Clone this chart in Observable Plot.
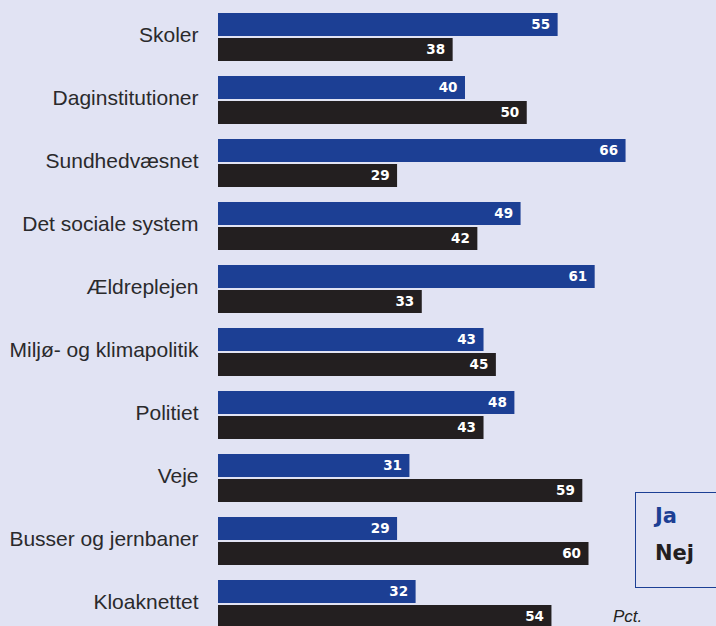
<!DOCTYPE html>
<html>
<head>
<meta charset="utf-8">
<script src="https://cdn.jsdelivr.net/npm/d3@7"></script>
<script src="https://cdn.jsdelivr.net/npm/@observablehq/plot@0.6"></script>
<style>
  html, body { margin: 0; padding: 0; background: #e1e3f3; overflow: hidden; }
  #wrap { position: relative; width: 716px; height: 626px; overflow: hidden; }
  #legend { position: absolute; left: 635px; top: 492px; width: 100px; height: 96px;
    border: 1.5px solid #1c3f94; box-sizing: border-box; font-family: "DejaVu Sans", sans-serif;
    font-weight: bold; font-size: 21px; line-height: 1; }
  #legend .ja { position: absolute; left: 19px; top: 13px; color: #1c3f94; }
  #legend .nej { position: absolute; left: 19px; top: 50px; color: #231f20; }
  #pct { position: absolute; left: 613px; top: 607px; font-family: "Liberation Sans", Arial, sans-serif;
    font-style: italic; font-size: 17px; color: #231f20; }
</style>
</head>
<body>
<div id="wrap">
  <div id="chart"></div>
  <div id="legend"><span class="ja">Ja</span><span class="nej">Nej</span></div>
  <div id="pct">Pct.</div>
</div>
<script>
const categories = ["Skoler", "Daginstitutioner", "Sundhedvæsnet", "Det sociale system", "Ældreplejen",
  "Miljø- og klimapolitik", "Politiet", "Veje", "Busser og jernbaner", "Kloaknettet"];
const ja  = [55, 40, 66, 49, 61, 43, 48, 31, 29, 32];
const nej = [38, 50, 29, 42, 33, 45, 43, 59, 60, 54];

const jaData = categories.map((c, i) => ({category: c, value: ja[i]}));
const nejData = categories.map((c, i) => ({category: c, value: nej[i]}));

const BLUE = "#1c3f94", BLACK = "#231f20";

const chart = Plot.plot({
  width: 716,
  height: 636,
  marginLeft: 218,
  marginRight: 4,
  marginTop: 5.5,
  marginBottom: 0.5,
  style: {background: "transparent", fontFamily: "Liberation Sans, Arial, sans-serif"},
  x: {domain: [0, 80], axis: null},
  y: {domain: categories, padding: 0, round: false, label: null},
  marks: [
    Plot.axisY({tickSize: 0, tickPadding: 20, fontSize: 21, color: "#2a2a2c", dy: -2, label: null}),
    Plot.barX(jaData, {x: "value", y: "category", fill: BLUE, insetTop: 7.5, insetBottom: 32.5}),
    Plot.barX(nejData, {x: "value", y: "category", fill: BLACK, insetTop: 32.5, insetBottom: 7.5}),
    Plot.text(jaData, {x: "value", y: "category", text: d => String(d.value), dx: -8, dy: -12.5,
      textAnchor: "end", fill: "white", fontWeight: "bold", fontSize: 13.5, fontFamily: "DejaVu Sans, sans-serif"}),
    Plot.text(nejData, {x: "value", y: "category", text: d => String(d.value), dx: -8, dy: 12.5,
      textAnchor: "end", fill: "white", fontWeight: "bold", fontSize: 13.5, fontFamily: "DejaVu Sans, sans-serif"})
  ]
});
document.getElementById("chart").appendChild(chart);
</script>
</body>
</html>
